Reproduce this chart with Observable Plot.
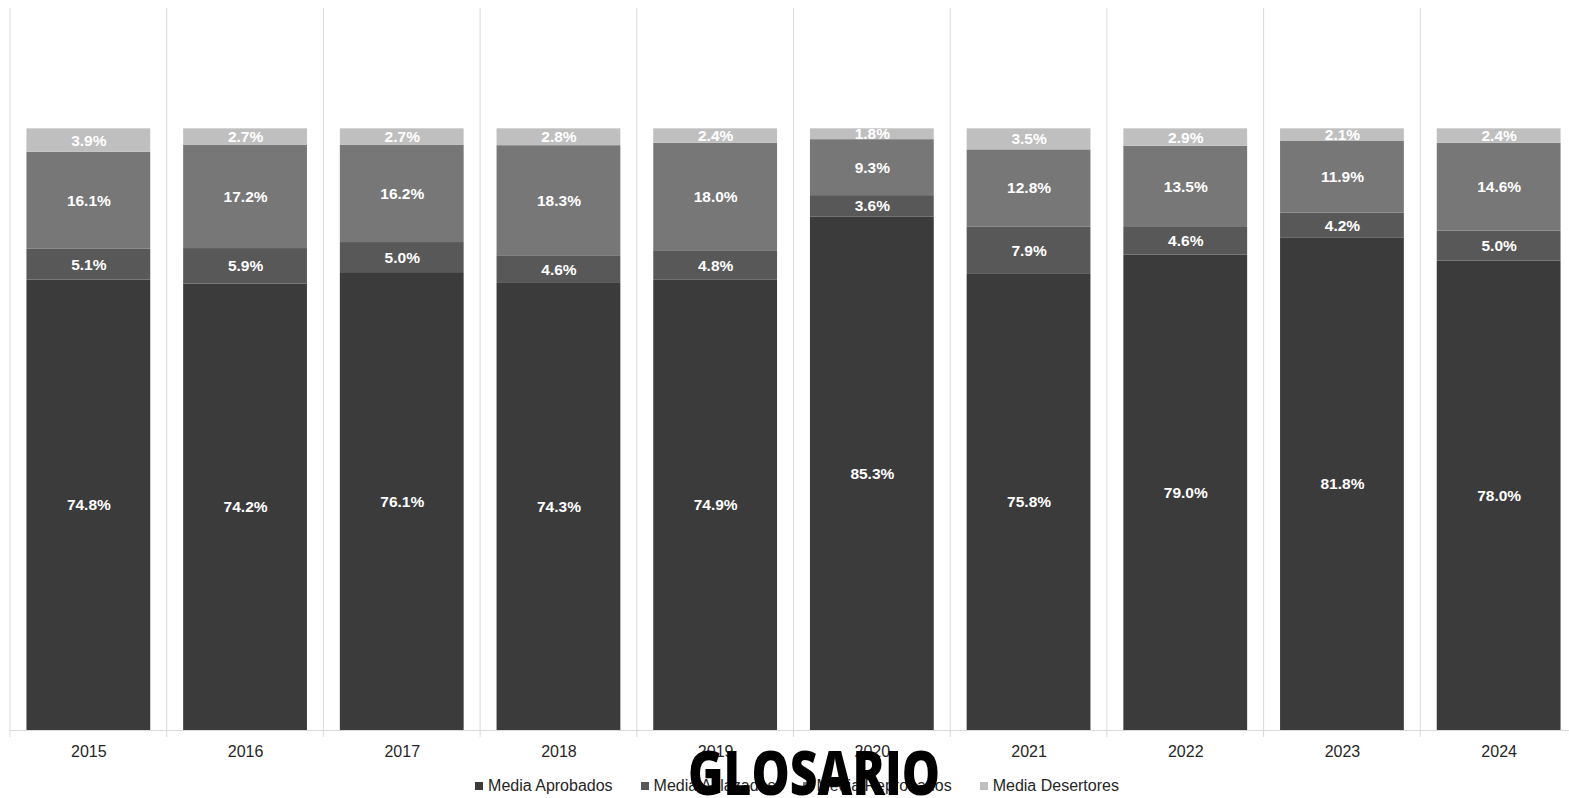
<!DOCTYPE html>
<html>
<head>
<meta charset="utf-8">
<script src="https://cdn.jsdelivr.net/npm/d3@7"></script>
<script src="https://cdn.jsdelivr.net/npm/@observablehq/plot@0.6"></script>
<style>
  html, body { margin: 0; padding: 0; background: #fff; overflow: hidden; }
  #wrap { position: relative; width: 1569px; height: 798px; font-family: "Liberation Sans", Arial, sans-serif; }
  #legend { position: absolute; left: 0; width: 1594px; top: 777px; display: flex; justify-content: center; gap: 28px; font-size: 16px; color: #262626; line-height: 18px; white-space: nowrap; }
  #legend .item { display: flex; align-items: center; gap: 5px; }
  #legend .sw { width: 8px; height: 8px; display: inline-block; }
  #glosario { position: absolute; left: 0; top: 0; pointer-events: none; }
</style>
</head>
<body>
<div id="wrap">
  <div id="chart"></div>
  <div id="legend"></div>
  <svg id="glosario" width="1569" height="798"><text x="688" y="795" textLength="252" lengthAdjust="spacingAndGlyphs" font-family="'Open Sans', 'Noto Sans', sans-serif" font-weight="800" font-size="62" fill="#000">GLOSARIO</text></svg>
</div>
<script>
const years = ["2015","2016","2017","2018","2019","2020","2021","2022","2023","2024"];
const series = ["Media Aprobados","Media Aplazados","Media Reprobados","Media Desertores"];
const colors = ["#3b3b3b","#585858","#777777","#bfbfbf"];
const aprobados  = [74.8, 74.2, 76.1, 74.3, 74.9, 85.3, 75.8, 79.0, 81.8, 78.0];
const aplazados  = [5.1, 5.9, 5.0, 4.6, 4.8, 3.6, 7.9, 4.6, 4.2, 5.0];
const reprobados = [16.1, 17.2, 16.2, 18.3, 18.0, 9.3, 12.8, 13.5, 11.9, 14.6];
const desertores = [3.9, 2.7, 2.7, 2.8, 2.4, 1.8, 3.5, 2.9, 2.1, 2.4];

const valuesBySerie = [aprobados, aplazados, reprobados, desertores];
const data = [];
series.forEach((s, si) => years.forEach((y, yi) => data.push({year: y, serie: s, value: valuesBySerie[si][yi]})));

const stackOpts = {x: "year", y: "value", z: "serie", order: series, offset: "normalize"};

const gridMark = (index, scales, values, dimensions) => {
  const x = scales.x;
  const half = (x.step() - x.bandwidth()) / 2;
  const xs = years.map(y => x(y) - half).concat([x(years[years.length - 1]) + x.bandwidth() + half]);
  const g = d3.create("svg:g");
  g.selectAll("line").data(xs).join("line")
    .attr("x1", d => d).attr("x2", d => d)
    .attr("y1", dimensions.marginTop)
    .attr("y2", dimensions.height - dimensions.marginBottom + 7)
    .attr("stroke", "#d9d9d9").attr("stroke-width", 1);
  return g.node();
};

const chart = Plot.plot({
  width: 1569,
  height: 766,
  marginTop: 8,
  marginBottom: 36,
  marginLeft: 10,
  marginRight: 0,
  style: {fontFamily: "'Liberation Sans', Arial, sans-serif", background: "#fff", overflow: "visible"},
  x: {domain: years, range: [10, 1577], paddingInner: 0.21, paddingOuter: 0.105, round: false, label: null},
  y: {domain: [0, 1.2], axis: null},
  color: {domain: series, range: colors},
  marks: [
    gridMark,
    Plot.ruleY([0], {stroke: "#d9d9d9", strokeWidth: 1}),
    Plot.barY(data, Plot.stackY({...stackOpts, fill: "serie"})),
    Plot.text(data, Plot.stackY({...stackOpts, text: d => d.value.toFixed(1) + "%", fill: "#ffffff", fontSize: 15.5, fontWeight: "bold"})),
    Plot.axisX({tickSize: 0, tickPadding: 15, fontSize: 16, color: "#262626", label: null})
  ]
});
document.getElementById("chart").appendChild(chart);

const legend = d3.select("#legend");
series.forEach((s, i) => {
  const item = legend.append("div").attr("class", "item");
  item.append("span").attr("class", "sw").style("background", colors[i]);
  item.append("span").text(s);
});
</script>
</body>
</html>
